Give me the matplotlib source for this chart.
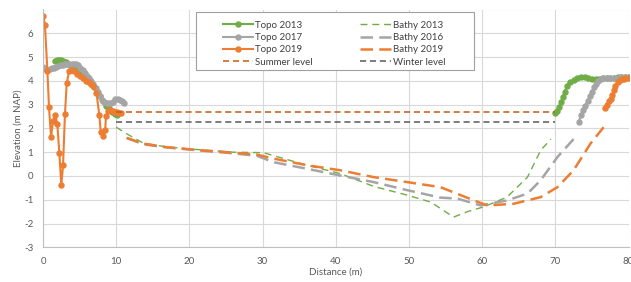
import numpy as np
import matplotlib
matplotlib.use("Agg")
import matplotlib.pyplot as plt
from matplotlib.patches import Rectangle

plt.rcParams['font.family'] = ['Lato', 'DejaVu Sans']

nan = np.nan

# Topo series: left bank, gap (nan), right bank
topo2013_x = [1.6, 1.9, 2.2, 2.5, 2.8, 3.1, 3.4, 3.8, 4.2, 4.6, 5.0, 5.4, 5.8, 6.2, 6.6,
              7.0, 7.4, 7.8, 8.2, 8.6, 9.0, 9.4, 9.8, 10.1, nan,
              69.9, 70.2, 70.5, 70.8, 71.0, 71.3, 71.6, 72.0, 72.5, 73.0, 73.5, 74.0,
              74.5, 75.0, 75.5, 76.0, 76.5, 77.0, 77.5, 78.0, 78.5, 79.0, 79.5, 80.0]
topo2013_y = [4.85, 4.88, 4.86, 4.87, 4.82, 4.78, 4.72, 4.62, 4.52, 4.42, 4.32, 4.22, 4.10, 4.00, 3.88,
              3.72, 3.55, 3.35, 3.15, 2.95, 2.85, 2.70, 2.60, 2.55, nan,
              2.65, 2.75, 2.90, 3.10, 3.30, 3.55, 3.80, 3.95, 4.02, 4.10, 4.15, 4.16,
              4.12, 4.08, 4.07, 4.08, 4.10, 4.12, 4.13, 4.14, 4.15, 4.15, 4.15, 4.15]

topo2017_x = [0.0, 0.3, 0.6, 0.9, 1.2, 1.5, 1.8, 2.1, 2.4, 2.7, 3.0, 3.3, 3.6, 3.9, 4.2, 4.5,
              4.8, 5.1, 5.4, 5.7, 6.0, 6.3, 6.6, 6.9, 7.2, 7.5, 7.8, 8.1, 8.4, 8.7, 9.0, 9.3,
              9.6, 9.9, 10.2, 10.5, 10.8, 11.0, nan,
              73.2, 73.5, 73.8, 74.1, 74.4, 74.7, 75.0, 75.3, 75.6, 75.9, 76.2, 76.5, 77.0,
              77.5, 78.0, 78.5, 79.0, 79.5, 80.0]
topo2017_y = [4.60, 4.52, 4.47, 4.50, 4.53, 4.56, 4.60, 4.63, 4.66, 4.68, 4.70, 4.72, 4.72, 4.72, 4.72, 4.70,
              4.65, 4.55, 4.45, 4.35, 4.22, 4.12, 4.00, 3.85, 3.70, 3.55, 3.35, 3.20, 3.12, 3.08, 3.06, 3.05,
              3.12, 3.22, 3.25, 3.20, 3.15, 3.05, nan,
              2.27, 2.55, 2.78, 2.95, 3.15, 3.35, 3.55, 3.72, 3.88, 4.00, 4.08, 4.12, 4.13,
              4.13, 4.13, 4.14, 4.15, 4.15, 4.15]

topo2019_x = [0.05, 0.27, 0.6, 0.82, 1.1, 1.37, 1.69, 1.96, 2.23, 2.5, 2.74, 3.0, 3.24, 3.56,
              3.9, 4.3, 4.7, 5.1, 5.5, 5.9, 6.3, 6.6, 6.9, 7.3, 7.7, 7.89, 8.25, 8.5, 8.6,
              8.9, 9.2, 9.5, 9.8, 10.1, 10.4, 10.7, nan,
              76.8, 77.0, 77.3, 77.6, 77.8, 78.0, 78.2, 78.5, 78.8, 79.1, 79.4, 79.7, 80.0]
topo2019_y = [6.72, 6.33, 4.42, 2.88, 1.64, 2.33, 2.56, 2.17, 0.98, -0.38, 0.45, 2.60, 3.90, 4.40,
              4.45, 4.40, 4.30, 4.20, 4.10, 4.00, 3.95, 3.88, 3.80, 3.50, 2.55, 1.85, 1.70, 1.93, 2.52,
              2.72, 2.78, 2.75, 2.70, 2.68, 2.65, 2.65, nan,
              2.85, 3.00, 3.15, 3.25, 3.40, 3.60, 3.80, 3.95, 4.02, 4.06, 4.08, 4.10, 4.10]

bathy2013_x = [10.0, 11.4, 13.7, 16.9, 21.5, 26.0, 30.1, 33.0, 36.1, 40.6, 45.2, 49.8, 53.0,
               56.1, 58.0, 60.2, 63.4, 66.2, 68.0, 69.4]
bathy2013_y = [2.05, 1.78, 1.38, 1.22, 1.10, 1.00, 0.98, 0.72, 0.45, 0.10, -0.44, -0.81, -1.10,
               -1.73, -1.50, -1.30, -0.89, -0.05, 1.08, 1.55]

bathy2016_x = [11.5, 13.7, 16.9, 21.5, 26.0, 29.2, 31.5, 36.1, 40.6, 45.2, 49.8, 54.3, 56.6,
               59.8, 63.4, 66.2, 68.0, 70.3, 72.5]
bathy2016_y = [1.60, 1.33, 1.20, 1.07, 0.95, 0.85, 0.58, 0.30, 0.02, -0.26, -0.60, -0.91, -0.95,
               -1.24, -1.03, -0.74, -0.18, 0.80, 1.55]

bathy2019_x = [11.4, 13.7, 16.9, 21.5, 26.0, 29.2, 31.5, 36.1, 40.6, 45.2, 49.8, 54.3, 58.9,
               60.7, 64.3, 68.0, 70.3, 72.5, 74.8, 76.6]
bathy2019_y = [1.60, 1.36, 1.21, 1.08, 0.98, 0.90, 0.73, 0.45, 0.24, -0.05, -0.26, -0.47, -1.03,
               -1.24, -1.17, -0.89, -0.47, 0.24, 1.36, 2.05]

level_x = [10, 70]
summer_level = 2.7
winter_level = 2.27

green = '#70AD47'
gray = '#A5A5A5'
orange = '#ED7D31'

fig = plt.figure(figsize=(6.31, 2.82), dpi=100)
ax = fig.add_axes([43 / 631, 1 - 247.3 / 282, 585.5 / 631, 237.8 / 282])

t13, = ax.plot(topo2013_x, topo2013_y, '-o', color=green, lw=1.5, ms=3.6, label='Topo 2013')
t17, = ax.plot(topo2017_x, topo2017_y, '-o', color=gray, lw=1.5, ms=3.6, label='Topo 2017')
t19, = ax.plot(topo2019_x, topo2019_y, '-o', color=orange, lw=1.5, ms=3.6, label='Topo 2019')

b13, = ax.plot(bathy2013_x, bathy2013_y, color=green, lw=1.0, dashes=(5, 3.5), label='Bathy 2013')
b16, = ax.plot(bathy2016_x, bathy2016_y, color=gray, lw=1.8, dashes=(5, 2.5), label='Bathy 2016')
b19, = ax.plot(bathy2019_x, bathy2019_y, color=orange, lw=1.8, dashes=(5, 2.5), label='Bathy 2019')

sl, = ax.plot(level_x, [summer_level] * 2, color='#C55A11', lw=1.1, dashes=(4, 2.5), label='Summer level')
wl, = ax.plot(level_x, [winter_level] * 2, color='#595959', lw=1.1, dashes=(4, 2.5), label='Winter level')

ax.set_xlim(0, 80)
ax.set_ylim(-3, 7)
ax.set_xticks(range(0, 81, 10))
ax.set_yticks(range(-3, 8))
ax.set_yticklabels([str(v) for v in range(-3, 7)] + [''])
ax.grid(True, color='#D9D9D9', lw=0.8)
ax.set_axisbelow(True)
for s in ['top', 'right']:
    ax.spines[s].set_visible(False)
for s in ['left', 'bottom']:
    ax.spines[s].set_color('#BFBFBF')
ax.tick_params(length=0, labelsize=7, colors='#595959', pad=7)
ax.set_xlabel('Distance (m)', fontsize=7, color='#595959', labelpad=1)
ax.set_ylabel('Elevation (m NAP)', fontsize=7, color='#595959', labelpad=1)

# legend box drawn separately (wider than its content, like the original)
ax.add_patch(Rectangle((196 / 631, 1 - 70 / 282), 278 / 631, 58 / 282,
                       transform=fig.transFigure, facecolor='white',
                       edgecolor='#A0A0A0', lw=0.8, zorder=4.5, clip_on=False))
leg = ax.legend([t13, t17, t19, sl, b13, b16, b19, wl],
                ['Topo 2013', 'Topo 2017', 'Topo 2019', 'Summer level',
                 'Bathy 2013', 'Bathy 2016', 'Bathy 2019', 'Winter level'],
                ncol=2, loc='center', bbox_to_anchor=(334 / 631, 1 - 43.7 / 282),
                bbox_transform=fig.transFigure, fontsize=7, numpoints=1,
                frameon=False, handlelength=3.1, columnspacing=4.9,
                labelspacing=0.35, borderpad=0.0, handletextpad=0.25)
leg.set_zorder(6)
for t in leg.get_texts():
    t.set_color('#404040')

fig.savefig('out.png', dpi=100)
